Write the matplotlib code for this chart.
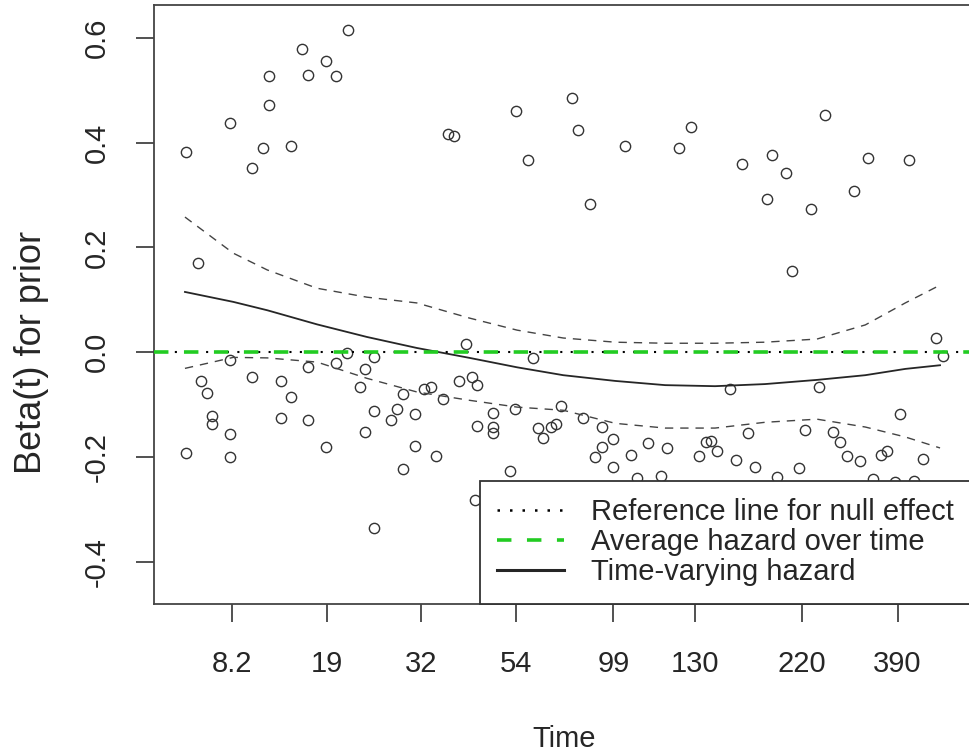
import numpy as np
import matplotlib.pyplot as plt
from matplotlib.lines import Line2D

plt.rcParams['font.family'] = ['Liberation Sans', 'DejaVu Sans']

# x = transformed time (KM scale), y = scaled Schoenfeld residual, beta(t) for prior
res_x = [0.001, 0.060, 0.089, 0.103, 0.111, 0.111, 0.140, 0.155, 0.163, 0.187,
         0.200, 0.216, 0.348, 0.356, 0.438, 0.454, 0.513, 0.521, 0.536, 0.583,
         0.654, 0.670, 0.738, 0.777, 0.771, 0.796, 0.804, 0.829, 0.848, 0.886,
         0.905, 0.959, 0.017,
         0.060, 0.021, 0.029, 0.036, 0.036, 0.060, 0.001, 0.060, 0.089, 0.127,
         0.140, 0.127, 0.163, 0.187, 0.163, 0.200, 0.215, 0.250, 0.238, 0.232,
         0.250, 0.238, 0.250, 0.289, 0.305, 0.332, 0.281, 0.273, 0.305, 0.289,
         0.317, 0.326, 0.342, 0.372, 0.363, 0.380, 0.387, 0.408, 0.387, 0.408,
         0.408, 0.430, 0.384, 0.437, 0.461, 0.468, 0.474, 0.485, 0.491, 0.498,
         0.497, 0.527, 0.552, 0.567, 0.552, 0.543, 0.567, 0.591, 0.613, 0.638,
         0.599, 0.630, 0.681, 0.690, 0.697, 0.705, 0.730, 0.746, 0.755, 0.722,
         0.784, 0.813, 0.821, 0.840, 0.858, 0.868, 0.877, 0.894, 0.922, 0.930,
         0.947, 0.977, 0.911, 0.940, 0.966, 0.995, 1.004]
res_y = [0.382, 0.437, 0.351, 0.390, 0.472, 0.527, 0.394, 0.579, 0.529, 0.556,
         0.527, 0.615, 0.416, 0.413, 0.460, 0.367, 0.485, 0.424, 0.283, 0.394,
         0.390, 0.430, 0.359, 0.376, 0.292, 0.342, 0.155, 0.273, 0.453, 0.308,
         0.371, 0.367, 0.170,
         -0.015, -0.055, -0.078, -0.122, -0.138, -0.157, -0.193, -0.201, -0.048, -0.055,
         -0.086, -0.126, -0.130, -0.181, -0.029, -0.021, -0.002, -0.010, -0.032, -0.067,
         -0.113, -0.153, -0.336, -0.224, -0.180, -0.199, -0.109, -0.130, -0.118, -0.080,
         -0.071, -0.067, -0.090, 0.015, -0.055, -0.048, -0.063, -0.117, -0.141, -0.143,
         -0.155, -0.227, -0.283, -0.109, -0.011, -0.145, -0.164, -0.143, -0.138, -0.103,
         -0.258, -0.126, -0.143, -0.166, -0.181, -0.201, -0.220, -0.197, -0.174, -0.183,
         -0.241, -0.237, -0.199, -0.172, -0.170, -0.189, -0.206, -0.155, -0.220, -0.071,
         -0.239, -0.222, -0.149, -0.067, -0.153, -0.172, -0.199, -0.208, -0.197, -0.189,
         -0.118, -0.204, -0.243, -0.248, -0.246, 0.027, -0.008]

# smoothed beta(t) with +/- 2 se band
fit_x = [0.0, 0.064, 0.109, 0.175, 0.241, 0.307, 0.377, 0.440, 0.501,
         0.570, 0.636, 0.702, 0.768, 0.837, 0.901, 0.954, 1.0]
fit_y = [0.115, 0.096, 0.080, 0.053, 0.029, 0.008, -0.011, -0.029, -0.044,
         -0.055, -0.063, -0.065, -0.061, -0.053, -0.044, -0.032, -0.025]
fit_hi = [0.258, 0.189, 0.157, 0.122, 0.105, 0.094, 0.065, 0.042, 0.027,
          0.019, 0.017, 0.017, 0.019, 0.025, 0.052, 0.094, 0.128]
fit_lo = [-0.031, -0.010, -0.011, -0.019, -0.050, -0.076, -0.092, -0.105, -0.111,
          -0.136, -0.145, -0.145, -0.134, -0.128, -0.143, -0.162, -0.183]

null_effect = 0.0
avg_hazard = 0.0

time_tick_pos = [0.0623, 0.188, 0.3126, 0.4384, 0.5675, 0.6755, 0.8172, 0.9437]
time_tick_lab = ['8.2', '19', '32', '54', '99', '130', '220', '390']
beta_ticks = [-0.4, -0.2, 0.0, 0.2, 0.4, 0.6]
beta_tick_lab = ['-0.4', '-0.2', '0.0', '0.2', '0.4', '0.6']

fig = plt.figure(figsize=(9.69, 7.53), dpi=100)
ax = fig.add_axes([154 / 969, 149 / 753, 817 / 969, 599 / 753])

ink = '#262626'
ax.plot(res_x, res_y, 'o', ms=7.4, mfc='none', mec='#333333', mew=1.0, zorder=3)
ax.plot(fit_x, fit_y, '-', color=ink, lw=1.3, zorder=4)
ax.plot(fit_x, fit_hi, color='#444444', lw=1.0, ls=(0, (6, 5)), zorder=4)
ax.plot(fit_x, fit_lo, color='#444444', lw=1.0, ls=(0, (6, 5)), zorder=4)
ax.axhline(null_effect, color='black', lw=1.5, ls=(0, (1, 4)), zorder=5)
ax.axhline(avg_hazard, color='#22cc22', lw=2.6, ls=(0, (4, 4.3)), zorder=6)

ax.set_xlim(-0.041, 1.041)
ax.set_ylim(-0.481, 0.663)

ax.set_xticks(time_tick_pos)
ax.set_xticklabels(time_tick_lab)
ax.set_yticks(beta_ticks)
ax.set_yticklabels(beta_tick_lab, rotation=90, va='center')
ax.tick_params(axis='both', direction='out', length=13, width=1.2, color='#333333',
               labelsize=21, labelcolor=ink)
ax.tick_params(axis='x', pad=20)
ax.tick_params(axis='y', pad=18)
for s in ax.spines.values():
    s.set_color('#444444')
    s.set_linewidth(1.3)

ax.set_xlabel('Time', fontsize=21, color=ink, va='center')
ax.xaxis.set_label_coords(0.502, -0.225)
ax.set_ylabel('Beta(t) for prior', fontsize=26, color=ink, va='center')
ax.yaxis.set_label_coords(-0.150, 0.42)

handles = [Line2D([], [], color='black', lw=1.8, ls=(0, (1, 4))),
           Line2D([], [], color='#22cc22', lw=2.6, ls=(0, (4, 4.3))),
           Line2D([], [], color=ink, lw=2.2)]
labels = ['Reference line for null effect', 'Average hazard over time',
          'Time-varying hazard']
leg = ax.legend(handles, labels, loc='lower right', bbox_to_anchor=(1, 0),
                borderaxespad=0, fontsize=21, frameon=True, fancybox=False,
                edgecolor='#333333', facecolor='white', framealpha=1,
                borderpad=0.6, labelspacing=0.07, handlelength=2.3,
                handletextpad=0.9)
leg.get_frame().set_linewidth(1.3)
leg.set_zorder(10)
for t in leg.get_texts():
    t.set_color(ink)

fig.savefig('out.png', dpi=100)
